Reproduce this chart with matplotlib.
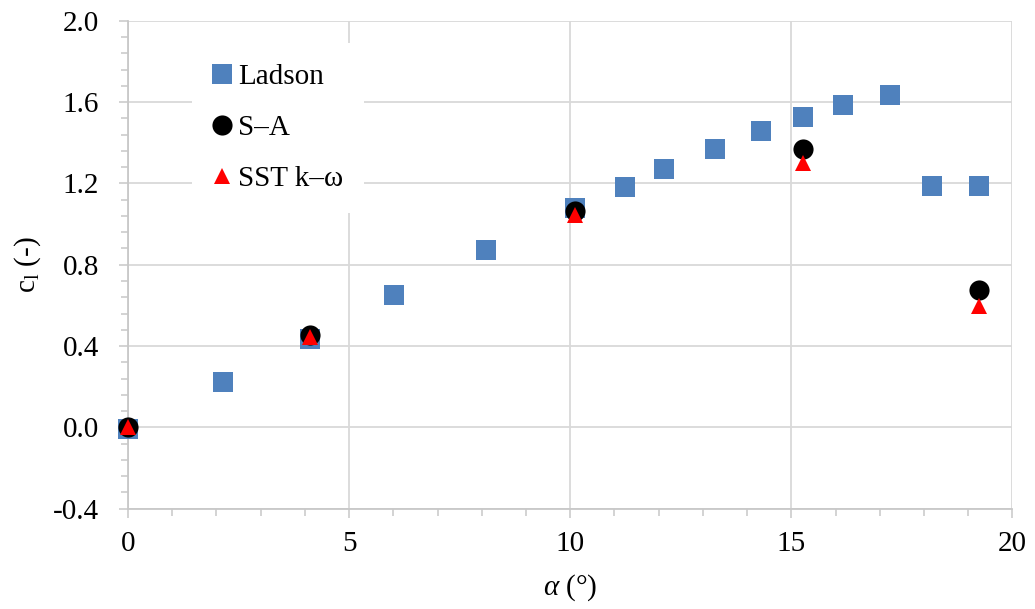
import matplotlib
matplotlib.use("Agg")
import matplotlib.pyplot as plt
from matplotlib.ticker import MultipleLocator, FormatStrFormatter

plt.rcParams['font.family'] = ['Liberation Serif', 'DejaVu Serif']
plt.rcParams['mathtext.fontset'] = 'custom'
plt.rcParams['mathtext.rm'] = 'Liberation Serif'
plt.rcParams['mathtext.it'] = 'Liberation Serif:italic'

# data
ladson_alpha = [0.0, 2.15, 4.12, 6.02, 8.09, 10.1, 11.23, 12.13, 13.27, 14.31, 15.27, 16.16, 17.24, 18.19, 19.25]
ladson_cl = [-0.01, 0.223, 0.435, 0.65, 0.87, 1.08, 1.184, 1.272, 1.37, 1.457, 1.528, 1.585, 1.636, 1.188, 1.188]

sa_alpha = [0.0, 4.12, 10.1, 15.27, 19.25]
sa_cl = [0.0, 0.455, 1.065, 1.369, 0.675]

sst_alpha = [0.0, 4.12, 10.1, 15.27, 19.25]
sst_cl = [0.0, 0.445, 1.045, 1.30, 0.597]

FS = 21

fig = plt.figure(figsize=(10.35, 6.09), dpi=100)
ax = fig.add_axes([0.1237, 0.1647, 0.8545, 0.8013])

ax.plot(ladson_alpha, ladson_cl, linestyle='none', marker='s', markersize=13.7,
        color='#4f81bd', markeredgewidth=0, label='Ladson', zorder=3, clip_on=False)
ax.plot(sa_alpha, sa_cl, linestyle='none', marker='o', markersize=14.5,
        color='black', markeredgewidth=0, label='S\u2013A', zorder=4, clip_on=False)
ax.plot(sst_alpha, sst_cl, linestyle='none', marker='^', markersize=11,
        color='#ff0000', markeredgewidth=0, label='SST k\u2013\u03c9', zorder=5, clip_on=False)

ax.set_xlim(0, 20)
ax.set_ylim(-0.4, 2.0)
ax.xaxis.set_major_locator(MultipleLocator(5))
ax.xaxis.set_minor_locator(MultipleLocator(1))
ax.yaxis.set_major_locator(MultipleLocator(0.4))
ax.yaxis.set_minor_locator(MultipleLocator(0.08))
ax.yaxis.set_major_formatter(FormatStrFormatter('%.1f'))

grid_c = '#d9d9d9'
ax.grid(True, which='major', color=grid_c, linewidth=1.3, zorder=0)
ax.set_axisbelow(True)
for s in ['top', 'right']:
    ax.spines[s].set_visible(False)
for s in ['left', 'bottom']:
    ax.spines[s].set_color('#c8c8c8')
    ax.spines[s].set_linewidth(1.3)

ax.tick_params(which='major', length=6.8, width=1.1, color='#c8c8c8', labelsize=FS)
ax.tick_params(which='minor', length=5, width=1.1, color='#c8c8c8')
ax.tick_params(axis='y', which='major', pad=14)
ax.tick_params(axis='x', which='major', pad=9)

ax.set_xlabel('$\\mathit{\u03b1}$ (\u00b0)', fontsize=FS)
ax.set_ylabel(r'c$_\mathregular{l}$ (-)', fontsize=FS)
ax.xaxis.set_label_coords(0.5, -0.13)
ax.yaxis.set_label_coords(-0.096, 0.5)

leg = ax.legend(loc='upper left', bbox_to_anchor=(0.072, 0.954), borderaxespad=0,
                borderpad=0.7, handlelength=0.7, handletextpad=0.2, labelspacing=0.85,
                fontsize=FS, frameon=True, fancybox=False)
leg.get_frame().set_facecolor('white')
leg.get_frame().set_edgecolor('none')
leg.get_frame().set_alpha(1)
leg.set_zorder(10)

fig.savefig('out.png', dpi=100)
